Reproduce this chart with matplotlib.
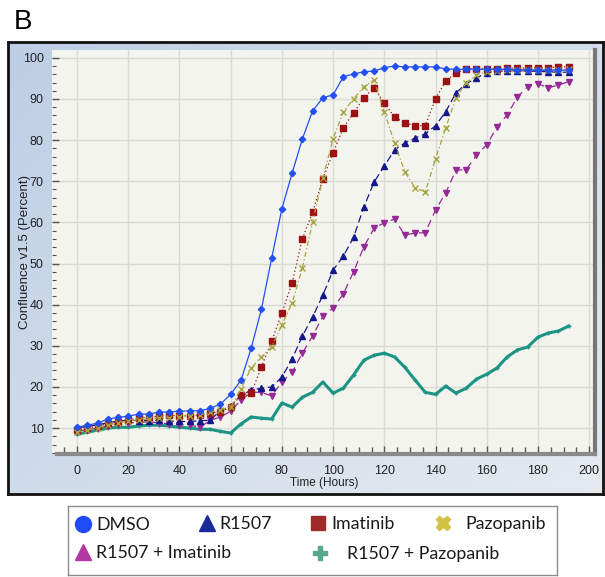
import numpy as np
import matplotlib
matplotlib.use("Agg")
import matplotlib.pyplot as plt
from matplotlib.ticker import MultipleLocator

# time points (hours)
hours = [0, 4, 8, 12, 16, 20, 24, 28, 32, 36, 40, 44, 48, 52, 56, 60, 64, 68, 72,
         76, 80, 84, 88, 92, 96, 100, 104, 108, 112, 116, 120, 124, 128, 132, 136,
         140, 144, 148, 152, 156, 160, 164, 168, 172, 176, 180, 184, 188, 192]

dmso = [10.2, 10.7, 11.2, 12.2, 12.6, 12.9, 13.4, 13.4, 13.9, 13.9, 14.1, 14.2, 14.2,
        14.8, 15.8, 18.2, 21.6, 29.4, 38.9, 51.3, 63.3, 72.0, 80.3, 87.1, 90.3, 91.0,
        95.4, 96.1, 96.6, 96.8, 97.6, 98.0, 97.8, 97.8, 97.8, 97.8, 97.3, 97.2, 97.2,
        97.2, 97.2, 97.2, 97.2, 97.1, 97.1, 97.0, 97.0, 97.0, 97.0]

r1507 = [10.0, 10.4, 10.8, 11.3, 11.7, 11.9, 11.8, 11.8, 11.9, 11.7, 11.6, 11.6, 11.8,
         11.9, 14.3, 15.3, 18.0, 19.2, 19.7, 20.0, 22.4, 26.8, 32.4, 37.0, 42.3, 48.4,
         51.8, 56.4, 63.7, 69.8, 73.7, 77.6, 79.3, 80.5, 81.5, 83.5, 86.9, 91.5, 93.7,
         95.1, 96.4, 96.8, 96.8, 96.9, 96.8, 96.7, 96.6, 96.5, 96.5]

imatinib = [9.5, 10.0, 10.5, 11.0, 11.5, 12.0, 12.4, 12.7, 12.9, 13.1, 13.0, 13.0, 13.1,
            13.6, 14.0, 15.1, 18.0, 18.5, 24.8, 31.1, 38.0, 45.3, 56.0, 62.5, 70.6, 76.9,
            83.0, 86.6, 90.3, 92.7, 89.0, 85.6, 84.2, 83.5, 83.5, 90.0, 94.4, 96.3, 97.3,
            97.4, 97.4, 97.4, 97.5, 97.5, 97.5, 97.6, 97.6, 97.8, 97.8]

pazopanib = [9.0, 9.5, 10.0, 10.8, 11.2, 11.8, 12.0, 12.2, 12.5, 12.5, 12.8, 13.0, 13.2,
             13.8, 14.5, 15.1, 19.5, 24.6, 27.3, 29.7, 35.0, 40.4, 48.9, 60.1, 70.8, 80.3,
             86.9, 90.0, 93.0, 94.6, 86.9, 79.3, 72.3, 68.4, 67.4, 75.4, 83.0, 90.3, 94.0,
             95.8, 96.6, 96.9, 97.0, 97.0, 97.0, 97.0, 97.1, 97.1, 97.2]

r1507_imatinib = [9.2, 9.6, 10.0, 10.5, 11.0, 11.2, 11.4, 11.5, 11.3, 11.0, 10.8, 10.7,
                  10.2, 11.9, 12.7, 14.1, 16.8, 18.7, 18.7, 17.8, 21.2, 23.6, 28.2, 32.4,
                  37.2, 39.2, 42.6, 48.0, 54.0, 58.6, 59.9, 60.8, 56.9, 57.4, 57.5, 63.0,
                  67.2, 72.7, 72.8, 76.4, 78.8, 83.2, 86.1, 90.5, 93.0, 93.7, 92.7, 93.4, 94.2]

r1507_pazopanib = [8.5, 9.0, 9.5, 10.0, 10.2, 10.2, 10.5, 10.7, 10.7, 10.5, 10.2, 10.0,
                   9.7, 9.7, 9.2, 8.8, 11.0, 12.7, 12.4, 12.2, 16.1, 15.1, 17.5, 18.7,
                   21.2, 18.5, 19.7, 22.9, 26.5, 27.7, 28.2, 27.3, 24.8, 21.7, 18.7, 18.2,
                   20.2, 18.5, 19.7, 21.9, 23.1, 24.6, 27.3, 29.0, 29.7, 32.1, 33.1, 33.6, 34.8]

x_ticks = [0, 20, 40, 60, 80, 100, 120, 140, 160, 180, 200]
y_ticks = [10, 20, 30, 40, 50, 60, 70, 80, 90, 100]

W, H = 605, 577
narrow = ["Liberation Sans Narrow", "Liberation Sans", "DejaVu Sans"]

fig = plt.figure(figsize=(W / 100, H / 100), dpi=100)
fig.patch.set_facecolor("white")

# panel letter
fig.text(14 / W, 1 - 22 / H, "B", fontsize=20, va="center", ha="left",
         family=["Liberation Sans", "DejaVu Sans"])

# outer chart frame with bluish gradient
bg = fig.add_axes([8 / W, 1 - 494 / H, 595 / W, 452 / H])
gx, gy = np.meshgrid(np.linspace(0, 1, 200), np.linspace(0, 1, 200))
t = np.clip(0.55 * gx + 0.45 * gy, 0, 1)
c0 = np.array([0.74, 0.81, 0.90])
c1 = np.array([0.90, 0.92, 0.94])
img = c0[None, None, :] * (1 - t[..., None]) + c1[None, None, :] * t[..., None]
bg.imshow(img, extent=[0, 1, 0, 1], aspect="auto", origin="upper")
bg.set_xticks([])
bg.set_yticks([])
for s in bg.spines.values():
    s.set_linewidth(2)
    s.set_color("#111111")

# main plot
ax = fig.add_axes([52 / W, 1 - 454 / H, 543 / W, 404 / H])
ax.set_facecolor("#f4f4ee")

ax.plot(hours, dmso, color="#2350f0", lw=0.9, marker="D", ms=3.2,
        label="DMSO", zorder=6)
ax.plot(hours, r1507, color="#15188c", lw=0.9, ls=(0, (6, 3)), marker="^", ms=4.5,
        label="R1507", zorder=5)
ax.plot(hours, imatinib, color="#9c1212", lw=0.9, ls=(0, (1, 2)), marker="s", ms=4,
        label="Imatinib", zorder=5)
ax.plot(hours, pazopanib, color="#a6a440", lw=0.9, ls=(0, (4, 2, 1, 2)), marker="x",
        ms=4, mew=1, label="Pazopanib", zorder=5)
ax.plot(hours, r1507_imatinib, color="#952a96", lw=0.9, ls=(0, (6, 4)), marker="v",
        ms=4.5, label="R1507 + Imatinib", zorder=4)
ax.plot(hours, r1507_pazopanib, color="#1c9484", lw=2.2, marker="+", ms=3,
        label="R1507 + Pazopanib", zorder=3)

ax.set_xlim(-9.8, 202.3)
ax.set_ylim(3.7, 101.9)
ax.set_xticks(x_ticks)
ax.set_yticks(y_ticks)
ax.xaxis.set_minor_locator(MultipleLocator(5))
ax.yaxis.set_minor_locator(MultipleLocator(2))
ax.grid(True, which="major", color="#d9d9d6", lw=1)
ax.set_axisbelow(True)

ax.tick_params(axis="x", which="both", direction="in", color="#555555", pad=8,
               labelsize=9, labelcolor="#222222", top=False)
ax.tick_params(axis="x", which="major", length=6, width=1)
ax.tick_params(axis="x", which="minor", length=5, width=1)
ax.tick_params(axis="y", which="both", direction="in", color="#555555", pad=6,
               labelsize=9, labelcolor="#222222", right=False)
ax.tick_params(axis="y", which="major", length=5, width=1)
ax.tick_params(axis="y", which="minor", length=3, width=0.8)
for lab in ax.get_xticklabels() + ax.get_yticklabels():
    lab.set_family(narrow)

ax.spines["top"].set_visible(False)
ax.spines["left"].set_visible(False)
ax.spines["bottom"].set_color("#8a8a8a")
ax.spines["bottom"].set_linewidth(3)
ax.spines["bottom"].set_bounds(-7.8, 202.3)
ax.spines["right"].set_color("#777777")
ax.spines["right"].set_linewidth(3)

fig.text(324 / W, 1 - 483 / H, "Time (Hours)", fontsize=8.5, ha="center", va="center",
         color="#222222", family=narrow)
fig.text(25 / W, 1 - 252 / H, "Confluence v1.5 (Percent)", fontsize=9.5,
         rotation=90, ha="center", va="center", color="#222222", family=narrow)

# legend box below the chart
lx0, ly0, lx1, ly1 = 68, 506, 557, 575
lg = fig.add_axes([lx0 / W, 1 - ly1 / H, (lx1 - lx0) / W, (ly1 - ly0) / H])
lg.set_xlim(lx0, lx1)
lg.set_ylim(ly1, ly0)
lg.set_xticks([])
lg.set_yticks([])
for s in lg.spines.values():
    s.set_color("#8c8c8c")
    s.set_linewidth(1)

leg_items = [
    ("DMSO", "o", "#1f4cf5", 83, 524, 96, 11.5),
    ("R1507", "^", "#1a2a9a", 207, 523, 219, 11.5),
    ("Imatinib", "s", "#9e2a2a", 318, 523, 331, 10.5),
    ("Pazopanib", "X", "#d2c442", 443, 523, 465, 10.5),
    ("R1507 + Imatinib", "^", "#b03aa0", 83, 552, 96, 11.5),
    ("R1507 + Pazopanib", "P", "#5aa88a", 320, 553, 347, 10.5),
]
for name, mk, col, mx, my, tx, msz in leg_items:
    lg.plot([mx], [my], marker=mk, color=col, ms=msz, mec=col, ls="none",
            clip_on=False)
    lg.text(tx, my + 1, name, fontsize=12.8, va="center", ha="left", color="#1a1a1a",
            family=["Lato", "DejaVu Sans"])

fig.savefig("out.png", dpi=100)
